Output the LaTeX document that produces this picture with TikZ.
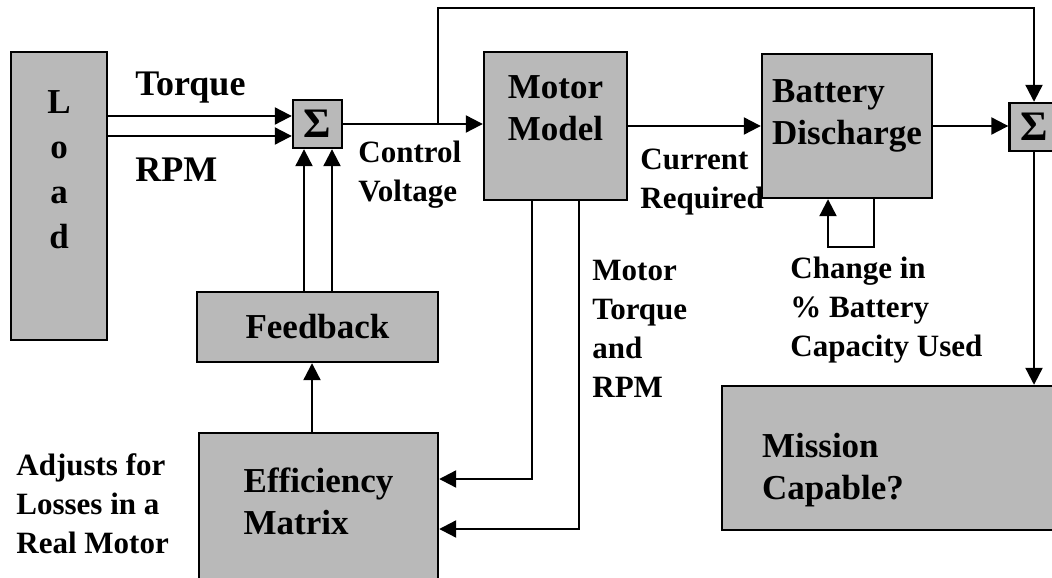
\documentclass[tikz,border=0pt]{standalone}
\usepackage{fontspec}
\setmainfont{Liberation Serif}
\usetikzlibrary{arrows.meta}
\usetikzlibrary{positioning}

\begin{document}
\begin{tikzpicture}[x=0.5pt,y=-0.5pt,
    box/.style={draw,line width=1.2pt,fill=gray!55,inner sep=0pt,align=left,font=\bfseries\fontsize{17.5}{21}\selectfont},
    lbl/.style={inner sep=0pt,anchor=west,align=left,font=\bfseries\fontsize{15.5}{19.5}\selectfont},
    arr/.style={line width=1.1pt,-{Triangle[length=8.5pt,width=8.5pt]}}]
  \useasboundingbox (0,0) rectangle (1052,577);
  \clip (0,0) rectangle (1052,577);
  % blocks
  \node[box,minimum width=48pt,minimum height=144pt,align=center,text depth=26pt,font=\bfseries\fontsize{17.5}{22.5}\selectfont] (load) at (59,196) {L\\o\\a\\d};
  \node[box,minimum width=24.5pt,minimum height=24pt,font=\bfseries\fontsize{21}{21}\selectfont] (sum1) at (317.5,124) {Σ};
  \node[box,minimum width=71.5pt,minimum height=74pt,text depth=17.5pt] (motor) at (555.5,126) {Motor\\Model};
  \node[box,minimum width=85pt,minimum height=72pt,text depth=14pt] (batt) at (847,126) {Battery\\Discharge};
  \node[box,minimum width=24.5pt,minimum height=24pt,font=\bfseries\fontsize{21}{21}\selectfont] (sum2) at (1034,127) {Σ};
  \node[box,minimum width=120.5pt,minimum height=35pt] (feedback) at (317.5,327) {Feedback};
  \node[box,minimum width=119.5pt,minimum height=73.5pt,text depth=5pt] (eff) at (318.5,506.5) {Efficiency\\Matrix};
  \node[box,minimum height=72pt,text width=129pt,inner xsep=20pt,text depth=13pt] (mission) at (891,458) {Mission\\Capable?};
  % labels
  \node[lbl,font=\bfseries\fontsize{18}{21}\selectfont] (torque) at (135,88) {Torque};
  \node[lbl,font=\bfseries\fontsize{18}{21}\selectfont] (rpm) at (135,170) {RPM};
  \node[lbl] (volt) at (358,175) {Control\\Voltage};
  \node[lbl] (curr) at (640,182.5) {Current\\Required};
  \node[lbl] (mtq) at (592,329) {Motor\\Torque\\and\\RPM};
  \node[lbl] (chg) at (790,310) {Change in\\\% Battery\\Capacity Used};
  \node[lbl] (adj) at (16,504) {Adjusts for\\Losses in a\\Real Motor};
  % connectors
  \coordinate (split) at (438,124);
  \draw[arr] (load.east |- 0,116) -- (sum1.west |- 0,116);
  \draw[arr] (load.east |- 0,136) -- (sum1.west |- 0,136);
  \draw[arr] (feedback.north -| 304,0) -- (sum1.south -| 304,0);
  \draw[arr] (feedback.north -| 332,0) -- (sum1.south -| 332,0);
  \draw[arr] (sum1.east) -- (motor.west |- sum1.east);
  \draw[arr] (split) -- ++(0,-116) -| (sum2.north);
  \draw[arr] (motor.east) -- (batt.west |- motor.east);
  \draw[arr] (batt.east) -- (sum2.west |- batt.east);
  \draw[arr] (batt.south -| 874,0) -- ++(0,48) -| (batt.south -| 828,0);
  \draw[arr] (sum2.south) -- (mission.north -| sum2.south);
  \draw[arr] (motor.south -| 532,0) |- (eff.east |- 0,479);
  \draw[arr] (motor.south -| 579,0) |- (eff.east |- 0,529);
  \draw[arr] (eff.north -| 312,0) -- (feedback.south -| 312,0);
\end{tikzpicture}
\end{document}
